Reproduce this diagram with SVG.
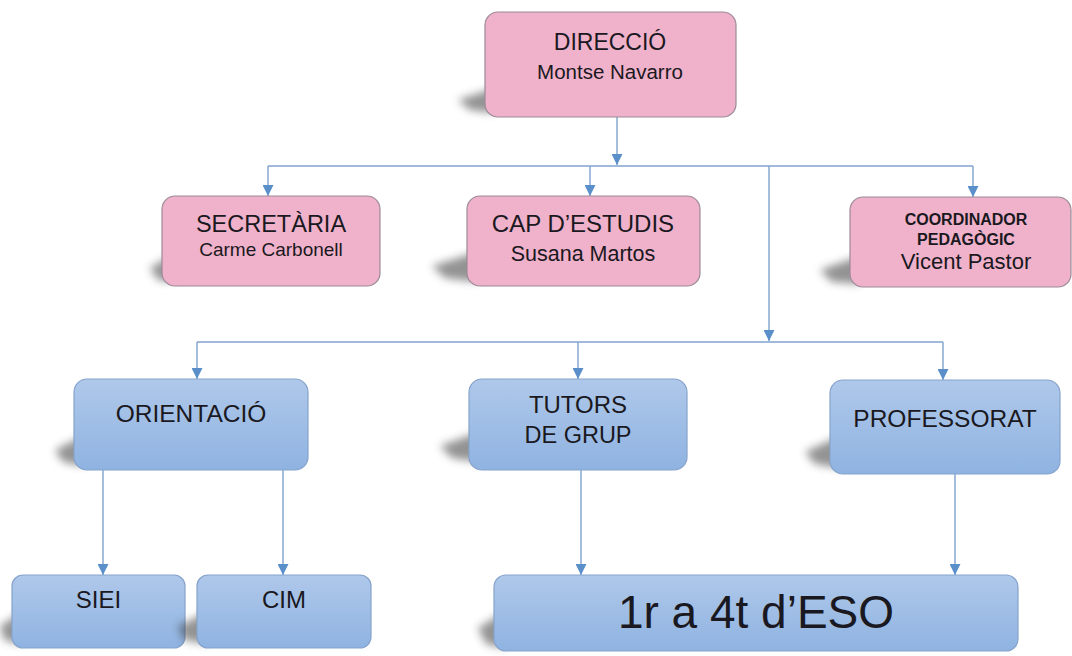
<svg xmlns="http://www.w3.org/2000/svg" width="1072" height="656" viewBox="0 0 1072 656">
<style>
  .pink { fill: #F0B2CB; stroke: #9C8A98; stroke-width: 1.2; }
  .blue { fill: url(#blueGrad); stroke: #86A3CC; stroke-width: 1.2; }
  .shadow { fill: #3a3a3a; opacity: 0.55; filter: url(#blur); }
  .t { font-family: "Liberation Sans", Arial, sans-serif; fill: #1a1820; text-anchor: middle; }
  .b { font-weight: bold; }
  .conn { fill: none; stroke: #7FA3CE; stroke-width: 1.4; }
  .arr { marker-end: url(#arrow); }
</style>
<defs>
  <linearGradient id="blueGrad" x1="0" y1="0" x2="0" y2="1">
    <stop offset="0" stop-color="#AFC8EA"/>
    <stop offset="1" stop-color="#8FB3E1"/>
  </linearGradient>
  <filter id="blur" x="-50%" y="-50%" width="200%" height="200%">
    <feGaussianBlur stdDeviation="4"/>
  </filter>
  <marker id="arrow" viewBox="0 0 10 10" refX="10" refY="5" markerWidth="11" markerHeight="11" markerUnits="userSpaceOnUse" orient="auto">
    <path d="M0,0 L10,5 L0,10 z" fill="#5A8FC9"/>
  </marker>
</defs>
<rect width="1072" height="656" fill="#ffffff"/>

<g id="connectors">
  <path class="conn arr" d="M617,117 V165"/>
  <path class="conn" d="M268,166 H973"/>
  <path class="conn arr" d="M268,166 V196"/>
  <path class="conn arr" d="M590,166 V196"/>
  <path class="conn arr" d="M973,166 V197"/>
  <path class="conn arr" d="M769,166 V341"/>
  <path class="conn" d="M197,342 H943"/>
  <path class="conn arr" d="M197,342 V379"/>
  <path class="conn arr" d="M578,342 V379"/>
  <path class="conn arr" d="M943,342 V380"/>
  <path class="conn arr" d="M103,470 V575"/>
  <path class="conn arr" d="M283,470 V575"/>
  <path class="conn arr" d="M581,470 V575"/>
  <path class="conn arr" d="M955,474 V575"/>
</g>

<g id="direccio">
  <path class="shadow" d="M495,88 L458,100 L470,110 L495,113 z"/>
  <rect class="pink" x="485" y="12" width="251" height="105" rx="13"/>
  <text class="t" x="610" y="50" font-size="23">DIRECCIÓ</text>
  <text class="t" x="610" y="79" font-size="20.5">Montse Navarro</text>
</g>

<g id="secretaria">
  <path class="shadow" d="M172,255 L150,268 L158,280 L172,282 z"/>
  <rect class="pink" x="162" y="196" width="218" height="90" rx="13"/>
  <text class="t" x="271" y="232" font-size="23.5">SECRETÀRIA</text>
  <text class="t" x="271" y="256" font-size="19">Carme Carbonell</text>
</g>

<g id="cap-estudis">
  <path class="shadow" d="M477,252 L432,266 L445,278 L477,282 z"/>
  <rect class="pink" x="467" y="196" width="233" height="90" rx="13"/>
  <text class="t" x="583" y="232" font-size="24">CAP D’ESTUDIS</text>
  <text class="t" x="583" y="261" font-size="21.5">Susana Martos</text>
</g>

<g id="coordinador">
  <path class="shadow" d="M860,256 L820,270 L832,282 L860,284 z"/>
  <rect class="pink" x="850" y="197" width="221" height="90" rx="13"/>
  <text class="t b" x="966" y="225" font-size="16">COORDINADOR</text>
  <text class="t b" x="966" y="245" font-size="16">PEDAGÒGIC</text>
  <text class="t" x="966" y="269" font-size="22">Vicent Pastor</text>
</g>

<g id="orientacio">
  <path class="shadow" d="M83,436 L55,450 L63,462 L83,466 z"/>
  <rect class="blue" x="74" y="379" width="234" height="91" rx="13"/>
  <text class="t" x="191" y="422" font-size="24.5">ORIENTACIÓ</text>
</g>

<g id="tutors">
  <path class="shadow" d="M479,432 L440,446 L452,458 L479,462 z"/>
  <rect class="blue" x="469" y="379" width="218" height="91" rx="13"/>
  <text class="t" x="578" y="413" font-size="24">TUTORS</text>
  <text class="t" x="578" y="443" font-size="23.5">DE GRUP</text>
</g>

<g id="professorat">
  <path class="shadow" d="M840,436 L805,452 L815,464 L840,468 z"/>
  <rect class="blue" x="830" y="380" width="230" height="94" rx="13"/>
  <text class="t" x="945" y="427" font-size="24.5">PROFESSORAT</text>
</g>

<g id="siei">
  <path class="shadow" d="M22,612 L0,626 L4,640 L22,644 z"/>
  <rect class="blue" x="12" y="575" width="173" height="73" rx="11"/>
  <text class="t" x="98.5" y="608" font-size="24">SIEI</text>
</g>

<g id="cim">
  <path class="shadow" d="M207,612 L178,626 L184,640 L207,644 z"/>
  <rect class="blue" x="197" y="575" width="174" height="73" rx="11"/>
  <text class="t" x="284" y="608" font-size="24">CIM</text>
</g>

<g id="eso">
  <path class="shadow" d="M504,612 L478,628 L486,644 L504,648 z"/>
  <rect class="blue" x="494" y="575" width="524" height="76" rx="12"/>
  <text class="t" x="756" y="628" font-size="46">1r a 4t d’ESO</text>
</g>
</svg>
